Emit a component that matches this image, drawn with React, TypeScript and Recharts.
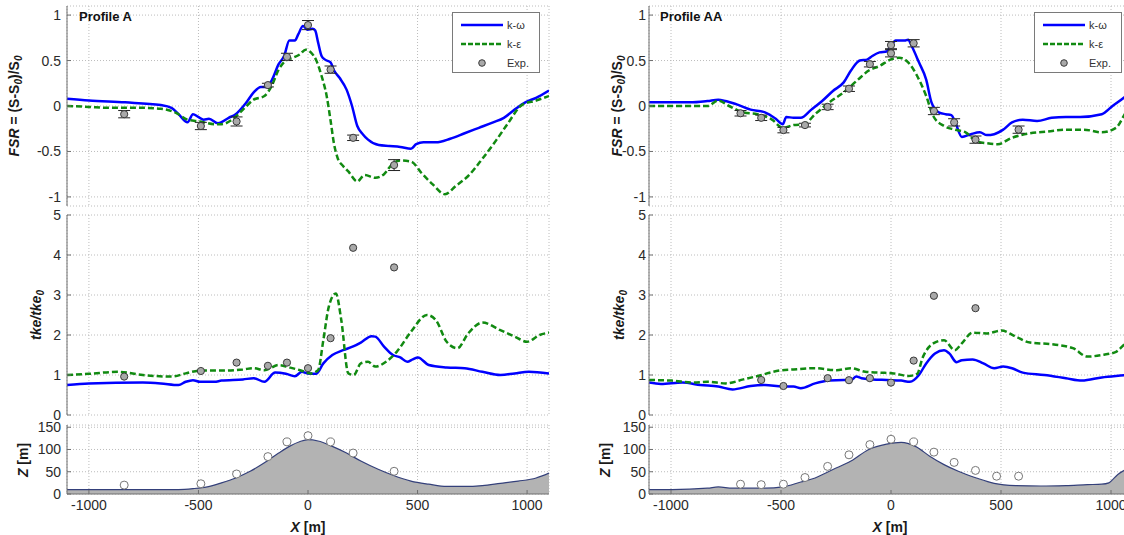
import type { ReactNode } from 'react'
import { ComposedChart, Line, Scatter, Area, XAxis, YAxis, CartesianGrid, ErrorBar } from 'recharts'

type Pt = [number, number]
type ErrPt = [number, number, number]

// ---- Profile A : FSR ----
const fsrA_kOmega: Pt[] = [
  [-1100, 0.08], [-1000, 0.06], [-835, 0.04], [-672, 0.01], [-623, -0.02], [-591, -0.09], [-550, -0.18],
  [-525, -0.09], [-501, -0.12], [-476, -0.15], [-452, -0.14], [-411, -0.19], [-362, -0.13], [-330, -0.09],
  [-281, 0.04], [-248, 0.15], [-215, 0.21], [-191, 0.21], [-166, 0.28], [-134, 0.46], [-109, 0.55],
  [-85, 0.72], [-60, 0.72], [-44, 0.79], [-23, 0.88], [-3, 0.84], [21, 0.85], [33, 0.83], [46, 0.7],
  [62, 0.55], [78, 0.51], [103, 0.48], [119, 0.39], [144, 0.31], [176, 0.18], [201, 0], [225, -0.22],
  [250, -0.31], [274, -0.37], [323, -0.43], [372, -0.44], [421, -0.45], [470, -0.47], [494, -0.42],
  [527, -0.4], [584, -0.4], [649, -0.36], [715, -0.3], [780, -0.24], [845, -0.18], [894, -0.13],
  [943, -0.04], [992, 0.04], [1041, 0.09], [1100, 0.17],
]
const fsrA_kEps: Pt[] = [
  [-1100, 0], [-1000, -0.01], [-917, -0.02], [-835, -0.02], [-754, -0.02], [-672, -0.03], [-607, -0.07],
  [-550, -0.15], [-493, -0.17], [-427, -0.2], [-395, -0.2], [-346, -0.15], [-297, -0.04], [-248, 0.07],
  [-199, 0.11], [-166, 0.22], [-134, 0.4], [-101, 0.5], [-69, 0.53], [-36, 0.57], [-11, 0.62], [13, 0.59],
  [38, 0.5], [62, 0.33], [86, 0.1], [103, -0.16], [119, -0.42], [135, -0.57], [160, -0.66], [184, -0.72],
  [225, -0.83], [258, -0.76], [307, -0.79], [347, -0.75], [388, -0.63], [421, -0.6], [470, -0.61],
  [519, -0.74], [568, -0.86], [625, -0.97], [674, -0.88], [731, -0.77], [796, -0.58], [861, -0.37],
  [910, -0.2], [976, 0.01], [1041, 0.06], [1100, 0.11],
]
const fsrA_exp: ErrPt[] = [
  [-839, -0.09, 0.04], [-489, -0.22, 0.04], [-326, -0.17, 0.05], [-183, 0.23, 0.02], [-96, 0.54, 0.04],
  [0, 0.89, 0.05], [103, 0.4, 0.04], [206, -0.35, 0.03], [393, -0.65, 0.06],
]

// ---- Profile A : tke ----
const tkeA_kOmega: Pt[] = [
  [-1100, 0.75], [-1000, 0.79], [-754, 0.81], [-672, 0.79], [-591, 0.75], [-558, 0.83], [-525, 0.87],
  [-493, 0.83], [-427, 0.83], [-395, 0.86], [-297, 0.89], [-248, 0.92], [-199, 0.83], [-150, 1.06],
  [-101, 1.03], [-60, 0.97], [-28, 1.08], [-3, 1.04], [38, 1.03], [70, 1.29], [111, 1.5], [160, 1.62],
  [209, 1.72], [241, 1.81], [290, 1.97], [307, 1.96], [347, 1.71], [388, 1.5], [421, 1.44], [453, 1.33],
  [478, 1.39], [502, 1.44], [551, 1.25], [633, 1.19], [715, 1.17], [796, 1.08], [878, 1.0], [943, 1.04],
  [1008, 1.08], [1100, 1.04],
]
const tkeA_kEps: Pt[] = [
  [-1100, 1.0], [-1000, 1.03], [-868, 1.08], [-754, 1.0], [-623, 0.96], [-558, 1.04], [-493, 1.11],
  [-395, 1.11], [-297, 1.14], [-248, 1.17], [-199, 1.12], [-134, 1.25], [-85, 1.19], [-36, 1.12],
  [13, 1.04], [46, 1.12], [70, 1.87], [95, 2.71], [127, 3.04], [152, 2.37], [184, 1.04], [209, 1.0],
  [241, 1.29], [274, 1.33], [307, 1.21], [356, 1.33], [405, 1.58], [470, 2.08], [543, 2.5], [584, 2.37],
  [633, 1.83], [682, 1.67], [731, 2.04], [796, 2.31], [878, 2.12], [943, 1.96], [1000, 1.83], [1057, 2.0],
  [1100, 2.06],
]
const tkeA_exp: Pt[] = [
  [-839, 0.96], [-489, 1.1], [-326, 1.31], [-183, 1.23], [-96, 1.31], [0, 1.17], [103, 1.92], [206, 4.18], [393, 3.69],
]

// ---- Profile A : terrain ----
const terrainA: Pt[] = [
  [-1100, 10], [-835, 10], [-672, 10], [-591, 10], [-525, 12], [-460, 16], [-395, 25], [-330, 36],
  [-264, 51], [-199, 70], [-134, 92], [-85, 107], [-36, 118], [0, 122], [46, 119], [111, 107], [176, 92],
  [241, 74], [323, 55], [388, 42], [470, 29], [551, 22], [633, 17], [715, 17], [796, 19], [878, 24],
  [959, 29], [1041, 36], [1100, 47],
]
const terrainA_exp: Pt[] = [
  [-839, 20], [-489, 23], [-326, 45], [-183, 84], [-96, 117], [0, 131], [103, 117], [206, 92], [393, 51],
]

// ---- Profile AA : FSR ----
const fsrAA_kOmega: Pt[] = [
  [-1100, 0.04], [-997, 0.04], [-915, 0.04], [-834, 0.055], [-785, 0.07], [-752, 0.055], [-704, 0.02],
  [-638, -0.04], [-573, -0.07], [-524, -0.14], [-492, -0.2], [-476, -0.12], [-443, -0.13], [-410, -0.13],
  [-362, -0.04], [-313, 0.055], [-264, 0.165], [-215, 0.26], [-182, 0.39], [-142, 0.5], [-109, 0.51],
  [-85, 0.55], [-52, 0.59], [-20, 0.6], [0, 0.66], [21, 0.72], [62, 0.72], [78, 0.73], [94, 0.66],
  [127, 0.48], [160, 0.29], [184, 0.04], [217, -0.07], [249, -0.09], [274, -0.1], [290, -0.165],
  [322, -0.34], [363, -0.31], [404, -0.29], [436, -0.32], [469, -0.31], [510, -0.26], [550, -0.18],
  [599, -0.15], [664, -0.165], [730, -0.13], [795, -0.12], [860, -0.12], [958, -0.09], [1007, 0.0],
  [1068, 0.11], [1100, 0.18],
]
const fsrAA_kEps: Pt[] = [
  [-1100, 0], [-915, 0], [-834, 0], [-785, 0.06], [-736, 0], [-671, -0.07], [-606, -0.09], [-541, -0.15],
  [-492, -0.24], [-443, -0.21], [-394, -0.2], [-345, -0.09], [-280, 0.04], [-215, 0.15], [-150, 0.29],
  [-101, 0.39], [-52, 0.44], [-3, 0.51], [37, 0.53], [78, 0.48], [119, 0.33], [160, 0.11], [192, -0.11],
  [241, -0.22], [290, -0.26], [339, -0.29], [388, -0.39], [436, -0.41], [485, -0.42], [550, -0.35],
  [632, -0.3], [713, -0.28], [795, -0.26], [876, -0.26], [958, -0.29], [1023, -0.24], [1068, -0.07],
  [1100, 0.02],
]
const fsrAA_exp: ErrPt[] = [
  [-684, -0.08, 0.03], [-590, -0.13, 0.03], [-489, -0.265, 0.03], [-391, -0.21, 0.02], [-288, -0.01, 0.03],
  [-191, 0.19, 0.03], [-96, 0.46, 0.03], [0, 0.67, 0.04], [0, 0.58, 0.04], [103, 0.69, 0.04],
  [195, -0.055, 0.04], [287, -0.18, 0.04], [384, -0.37, 0.04], [580, -0.26, 0.04],
]

// ---- Profile AA : tke ----
const tkeAA_kOmega: Pt[] = [
  [-1100, 0.81], [-1046, 0.775], [-948, 0.81], [-866, 0.75], [-785, 0.71], [-720, 0.64], [-638, 0.725],
  [-573, 0.75], [-492, 0.71], [-443, 0.71], [-410, 0.67], [-345, 0.79], [-280, 0.86], [-215, 0.875],
  [-182, 0.875], [-158, 0.96], [-134, 0.92], [-85, 0.89], [-20, 0.875], [46, 0.86], [86, 0.83], [127, 1.0],
  [160, 1.29], [200, 1.54], [241, 1.62], [265, 1.54], [298, 1.32], [322, 1.37], [371, 1.39], [420, 1.29],
  [469, 1.17], [510, 1.21], [550, 1.17], [599, 1.06], [697, 1.0], [795, 0.92], [868, 0.86], [958, 0.94],
  [1068, 1.0], [1100, 1.02],
]
const tkeAA_kEps: Pt[] = [
  [-1100, 0.875], [-997, 0.86], [-899, 0.81], [-834, 0.83], [-752, 0.79], [-671, 0.89], [-606, 0.975],
  [-508, 1.11], [-443, 1.14], [-345, 1.17], [-248, 1.12], [-182, 1.17], [-117, 1.08], [-52, 1.06],
  [13, 1.04], [78, 0.975], [119, 1.03], [143, 1.42], [192, 1.79], [241, 1.87], [290, 1.62], [322, 1.79],
  [371, 2.06], [436, 2.04], [502, 2.11], [567, 1.96], [632, 1.81], [730, 1.77], [827, 1.67], [893, 1.46],
  [958, 1.5], [1023, 1.58], [1068, 1.79], [1100, 1.85],
]
const tkeAA_exp: Pt[] = [
  [-590, 0.875], [-489, 0.725], [-288, 0.92], [-191, 0.87], [-96, 0.92], [0, 0.81], [103, 1.36], [195, 2.98], [384, 2.67],
]

// ---- Profile AA : terrain ----
const terrainAA: Pt[] = [
  [-1100, 10], [-997, 10], [-834, 13], [-785, 16], [-720, 13], [-573, 13], [-492, 16], [-410, 27],
  [-345, 36], [-264, 55], [-182, 74], [-101, 100], [-20, 112], [46, 116], [111, 107], [176, 85],
  [241, 66], [306, 51], [388, 36], [469, 24], [567, 19], [681, 18], [795, 19], [893, 21], [958, 22],
  [990, 25], [1031, 44], [1068, 55], [1100, 62],
]
const terrainAA_exp: Pt[] = [
  [-684, 22], [-590, 21], [-489, 22], [-391, 37], [-288, 62], [-191, 88], [-96, 111], [0, 123],
  [103, 117], [195, 94], [287, 71], [384, 53], [480, 40], [580, 40],
]

const X_TICKS = [-1000, -500, 0, 500, 1000]
const FSR_TICKS = [-1, -0.5, 0, 0.5, 1]
const TKE_TICKS = [0, 1, 2, 3, 4, 5]
const Z_TICKS = [0, 50, 100, 150]

const FONT = '"Liberation Sans", Arial, Helvetica, sans-serif'
const AXIS = '#6e6e6e'
const TICK = { fontSize: 14, fill: '#2a2a2a', fontFamily: FONT }
const BLUE = '#0000ff'
const GREEN = '#118a11'

const rows = (pts: Pt[]) => pts.map(([x, y]) => ({ x, y }))
const errRows = (pts: ErrPt[]) => pts.map(([x, y, err]) => ({ x, y, err }))
const blank = () => ''

function GrayDot(props: any) {
  const { cx, cy } = props
  if (cx == null || cy == null) return null
  return <circle cx={cx} cy={cy} r={3.6} fill="#a9a9a9" stroke="#3a3a3a" strokeWidth={1} />
}

function OpenDot(props: any) {
  const { cx, cy } = props
  if (cx == null || cy == null) return null
  return <circle cx={cx} cy={cy} r={4} fill="#ffffff" stroke="#777777" strokeWidth={1} />
}

interface PanelProps {
  top: number
  height: number
  width: number
  margin: { top: number; right: number; bottom: number; left: number }
  yDomain: [number, number]
  yTicks: number[]
  tickGap: number
  xLabels?: boolean
  children: ReactNode
}

function Panel({ top, height, width, margin, yDomain, yTicks, tickGap, xLabels, children }: PanelProps) {
  return (
    <div style={{ position: 'absolute', left: 0, top }}>
      <ComposedChart width={width} height={height} margin={margin}>
        <CartesianGrid stroke="#bcbcbc" strokeDasharray="1 2" />
        <XAxis dataKey="x" type="number" domain={[-1100, 1100]} ticks={X_TICKS} interval={0} allowDataOverflow
          height={xLabels ? 30 : 0} tickSize={-4} tickMargin={xLabels ? 10 : 0} tick={TICK}
          tickFormatter={xLabels ? undefined : blank} stroke={AXIS} />
        <XAxis xAxisId="top" orientation="top" type="number" domain={[-1100, 1100]} ticks={X_TICKS} interval={0}
          allowDataOverflow height={0} tickSize={-4} tickFormatter={blank} stroke={AXIS} />
        <YAxis dataKey="y" type="number" domain={yDomain} ticks={yTicks} interval={0} allowDataOverflow width={40}
          tickSize={-4} tickMargin={4 + tickGap} tick={TICK} stroke={AXIS} />
        <YAxis yAxisId="right" orientation="right" type="number" domain={yDomain} ticks={yTicks} interval={0}
          allowDataOverflow width={0} tickSize={-4} tickFormatter={blank} stroke={AXIS} />
        {children}
      </ComposedChart>
    </div>
  )
}

function LegendBox({ left }: { left: number }) {
  const row = { display: 'flex', alignItems: 'center', height: 19 }
  return (
    <div style={{ position: 'absolute', left, top: 12, width: 86, height: 59, border: '1px solid #7a7a7a',
      background: '#fff', fontFamily: FONT, fontSize: 11, color: '#333', boxSizing: 'content-box' }}>
      <div style={{ ...row, marginTop: 2 }}>
        <svg width={54} height={10}><line x1={8} x2={50} y1={5} y2={5} stroke={BLUE} strokeWidth={2.5} /></svg>
        <span>k-ω</span>
      </div>
      <div style={row}>
        <svg width={54} height={10}><line x1={8} x2={50} y1={5} y2={5} stroke={GREEN} strokeWidth={2.5} strokeDasharray="5 2" /></svg>
        <span>k-ε</span>
      </div>
      <div style={row}>
        <svg width={54} height={10}><circle cx={29} cy={5} r={3.3} fill="#a9a9a9" stroke="#3a3a3a" /></svg>
        <span>Exp.</span>
      </div>
    </div>
  )
}

const rotated = (cx: number, cy: number): React.CSSProperties => ({
  position: 'absolute', left: cx, top: cy, transform: 'translate(-50%, -50%) rotate(-90deg)',
  whiteSpace: 'nowrap', fontFamily: FONT, fontSize: 14, fontWeight: 'bold', color: '#1a1a1a', lineHeight: '16px',
})
const sub = { fontSize: 10, verticalAlign: -3 }

interface ColumnProps {
  left: number
  width: number
  ml: number
  mr: number
  tickGap: number
  title: string
  fsrKw: Pt[]
  fsrKe: Pt[]
  fsrExp: ErrPt[]
  tkeKw: Pt[]
  tkeKe: Pt[]
  tkeExp: Pt[]
  terrain: Pt[]
  terrainExp: Pt[]
  fsrLabelX: number
  tkeLabelX: number
  zLabelX: number
  xLabelX: number
  titleX: number
  legendX: number
}

function Column(p: ColumnProps) {
  const w = p.width
  return (
    <div style={{ position: 'absolute', left: p.left, top: 0, width: w, height: 535 }}>
      <Panel top={0} height={210} width={w} margin={{ top: 6, right: p.mr, bottom: 4, left: p.ml }}
        yDomain={[-1.1, 1.1]} yTicks={FSR_TICKS} tickGap={p.tickGap}>
        <Line data={rows(p.fsrKw)} dataKey="y" type="monotone" stroke={BLUE} strokeWidth={2.5} dot={false} isAnimationActive={false} />
        <Line data={rows(p.fsrKe)} dataKey="y" type="monotone" stroke={GREEN} strokeWidth={2.5} strokeDasharray="6 3" dot={false} isAnimationActive={false} />
        <Scatter data={errRows(p.fsrExp)} dataKey="y" shape={GrayDot} isAnimationActive={false}>
          <ErrorBar dataKey="err" direction="y" width={6} stroke="#222" strokeWidth={1} isAnimationActive={false} />
        </Scatter>
      </Panel>
      <Panel top={200} height={227} width={w} margin={{ top: 15, right: p.mr, bottom: 12, left: p.ml }}
        yDomain={[0, 5]} yTicks={TKE_TICKS} tickGap={p.tickGap}>
        <Line data={rows(p.tkeKw)} dataKey="y" type="monotone" stroke={BLUE} strokeWidth={2.5} dot={false} isAnimationActive={false} />
        <Line data={rows(p.tkeKe)} dataKey="y" type="monotone" stroke={GREEN} strokeWidth={2.5} strokeDasharray="6 3" dot={false} isAnimationActive={false} />
        <Scatter data={rows(p.tkeExp)} dataKey="y" shape={GrayDot} isAnimationActive={false} />
      </Panel>
      <Panel top={410} height={114} width={w} margin={{ top: 15, right: p.mr, bottom: 0, left: p.ml }}
        yDomain={[0, 155]} yTicks={Z_TICKS} tickGap={p.tickGap} xLabels>
        <Area data={rows(p.terrain)} dataKey="y" type="monotone" fill="#b3b3b3" fillOpacity={1} stroke="#34407a" strokeWidth={1.2} isAnimationActive={false} />
        <Scatter data={rows(p.terrainExp)} dataKey="y" shape={OpenDot} isAnimationActive={false} />
      </Panel>

      <div style={{ position: 'absolute', left: p.titleX, top: 9, fontFamily: FONT, fontSize: 13, fontWeight: 'bold', color: '#111' }}>
        {p.title}
      </div>
      <LegendBox left={p.legendX} />

      <div style={rotated(p.fsrLabelX, 106)}>
        <i>FSR</i> = (S-S<sub style={sub}><i>0</i></sub>)/S<sub style={sub}><i>0</i></sub>
      </div>
      <div style={rotated(p.tkeLabelX, 315)}>
        <i>tke/tke<sub style={sub}>0</sub></i>
      </div>
      <div style={rotated(p.zLabelX, 460)}>
        <i>Z</i> [m]
      </div>
      <div style={{ position: 'absolute', left: p.xLabelX, top: 527, transform: 'translate(-50%, -50%)', fontFamily: FONT,
        fontSize: 14, fontWeight: 'bold', color: '#1a1a1a', whiteSpace: 'nowrap' }}>
        <i>X</i> [m]
      </div>
    </div>
  )
}

export default function App() {
  return (
    <div style={{ position: 'absolute', left: 0, top: 0, width: 1124, height: 535, overflow: 'hidden', background: '#fff' }}>
      <Column left={0} width={560} ml={27} mr={11} tickGap={6} title="Profile A"
        fsrKw={fsrA_kOmega} fsrKe={fsrA_kEps} fsrExp={fsrA_exp}
        tkeKw={tkeA_kOmega} tkeKe={tkeA_kEps} tkeExp={tkeA_exp}
        terrain={terrainA} terrainExp={terrainA_exp}
        fsrLabelX={16} tkeLabelX={38} zLabelX={23} xLabelX={308} titleX={79} legendX={452} />
      <Column left={580} width={570} ml={29} mr={17} tickGap={3} title="Profile AA"
        fsrKw={fsrAA_kOmega} fsrKe={fsrAA_kEps} fsrExp={fsrAA_exp}
        tkeKw={tkeAA_kOmega} tkeKe={tkeAA_kEps} tkeExp={tkeAA_exp}
        terrain={terrainAA} terrainExp={terrainAA_exp}
        fsrLabelX={39} tkeLabelX={41} zLabelX={25} xLabelX={310} titleX={80} legendX={454} />
    </div>
  )
}
